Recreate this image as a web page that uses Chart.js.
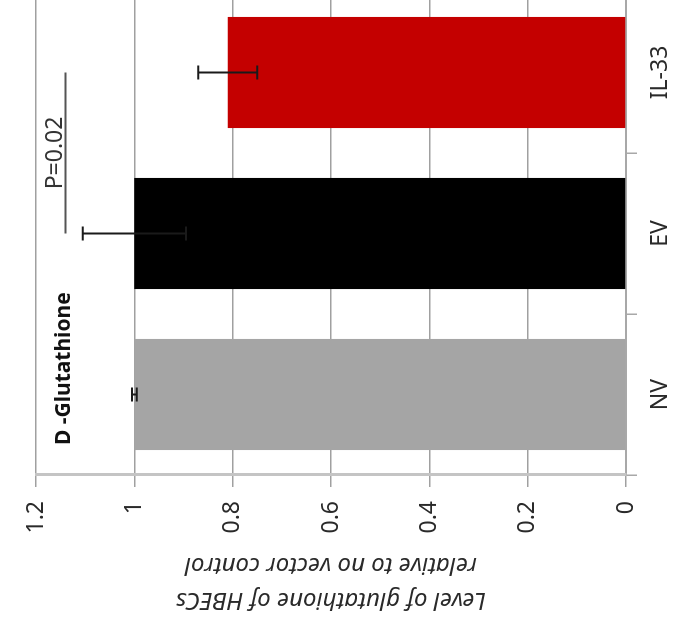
<!DOCTYPE html>
<html>
<head>
<meta charset="utf-8">
<script src="https://cdn.jsdelivr.net/npm/chart.js@4.4.1/dist/chart.umd.min.js"></script>
<style>
    html, body { margin: 0; padding: 0; background: #fff; overflow: hidden; }
    body { width: 673px; height: 631px; position: relative; }
    /* the figure is printed turned a quarter turn to the left */
    #wrap {
        position: absolute; left: 0; top: 0;
        width: 650px; height: 673px;
        transform-origin: 0 0;
        transform: translate(0px, 631px) rotate(-90deg);
    }
</style>
</head>
<body>
<div id="wrap"><canvas id="grafico" width="650" height="673"></canvas></div>
<script>
// data
const categories = ['NV', 'EV', 'IL-33'];
const glutathione = [1.0, 1.0, 0.81];
const errorBars = [0.005, 0.105, 0.06];
const yTickLabels = ['0', '0.2', '0.4', '0.6', '0.8', '1', '1.2'];
const sigPair = [1, 2];       // EV vs IL-33
const sigLevel = 1.14;
const sigText = 'P=0.02';
const panelLabel = 'D -Glutathione';
const axisTitle = ['Level of glutathione of HBECs', 'relative to no vector control'];

Chart.defaults.font.family = '"Noto Sans", "DejaVu Sans", sans-serif';
Chart.defaults.color = '#2a2a2a';

// error bars, p-value bracket and the panel label
const extras = {
    id: 'extras',
    afterDatasetsDraw(chart) {
        const ctx = chart.ctx;
        const y = chart.scales.y;
        const bars = chart.getDatasetMeta(0).data;

        ctx.save();
        ctx.strokeStyle = '#1a1a1a';
        ctx.lineWidth = 2;
        bars.forEach(function(bar, i) {
            const top = y.getPixelForValue(glutathione[i] + errorBars[i]);
            const bot = y.getPixelForValue(glutathione[i] - errorBars[i]);
            ctx.beginPath();
            ctx.moveTo(bar.x, top); ctx.lineTo(bar.x, bot);
            ctx.moveTo(bar.x - 7, top); ctx.lineTo(bar.x + 7, top);
            ctx.moveTo(bar.x - 7, bot); ctx.lineTo(bar.x + 7, bot);
            ctx.stroke();
        });

        // significance line
        const x1 = bars[sigPair[0]].x;
        const x2 = bars[sigPair[1]].x;
        const ys = y.getPixelForValue(sigLevel);
        ctx.strokeStyle = '#555';
        ctx.lineWidth = 2;
        ctx.beginPath();
        ctx.moveTo(x1, ys); ctx.lineTo(x2, ys);
        ctx.stroke();

        ctx.fillStyle = '#333';
        ctx.font = '23px "Noto Sans"';
        ctx.textAlign = 'center';
        ctx.textBaseline = 'alphabetic';
        ctx.fillText(sigText, (x1 + x2) / 2, ys - 4);

        ctx.fillStyle = '#111';
        ctx.font = 'bold 21px "Noto Sans"';
        ctx.textAlign = 'left';
        ctx.fillText(panelLabel, chart.chartArea.left + 30, y.getPixelForValue(1.13));
        ctx.restore();
    }
};

const ctx = document.getElementById('grafico').getContext('2d');
var chart = new Chart(ctx, {
    type: 'bar',
    data: {
        labels: categories,
        datasets: [{
            data: glutathione,
            backgroundColor: ['#a5a5a5', '#000000', '#c40000'],
            borderWidth: 0,
            barPercentage: 0.69,
            categoryPercentage: 1.0
        }]
    },
    options: {
        responsive: false,
        animation: false,
        devicePixelRatio: 1,
        layout: { padding: { top: 36, right: 11, left: 0, bottom: 0 } },
        plugins: {
            legend: { display: false },
            tooltip: { enabled: false }
        },
        scales: {
            x: {
                afterFit: function(scale) { scale.height = 47; },
                grid: {
                    drawOnChartArea: false,
                    drawTicks: true,
                    tickLength: 11,
                    color: '#a8a8a8',
                    lineWidth: 1.5
                },
                border: { color: '#a8a8a8', width: 2 },
                ticks: {
                    padding: 10,
                    maxRotation: 0,
                    font: { size: 23 },
                    color: '#2a2a2a'
                }
            },
            y: {
                min: 0,
                max: 1.2,
                afterFit: function(scale) { scale.width = 156; },
                grid: {
                    color: '#a0a0a0',
                    lineWidth: 1.5,
                    tickLength: 12
                },
                border: { color: '#c4c4c4', width: 3 },
                ticks: {
                    stepSize: 0.2,
                    padding: 14,
                    font: { size: 23 },
                    color: '#2a2a2a',
                    callback: function(value, index) {
                        return yTickLabels[index];
                    }
                },
                title: {
                    display: true,
                    text: axisTitle,
                    font: { size: 24, style: 'italic', lineHeight: 1.45 },
                    color: '#2a2a2a',
                    padding: { top: 14, bottom: 0 }
                }
            }
        }
    },
    plugins: [extras]
});
</script>
</body>
</html>
